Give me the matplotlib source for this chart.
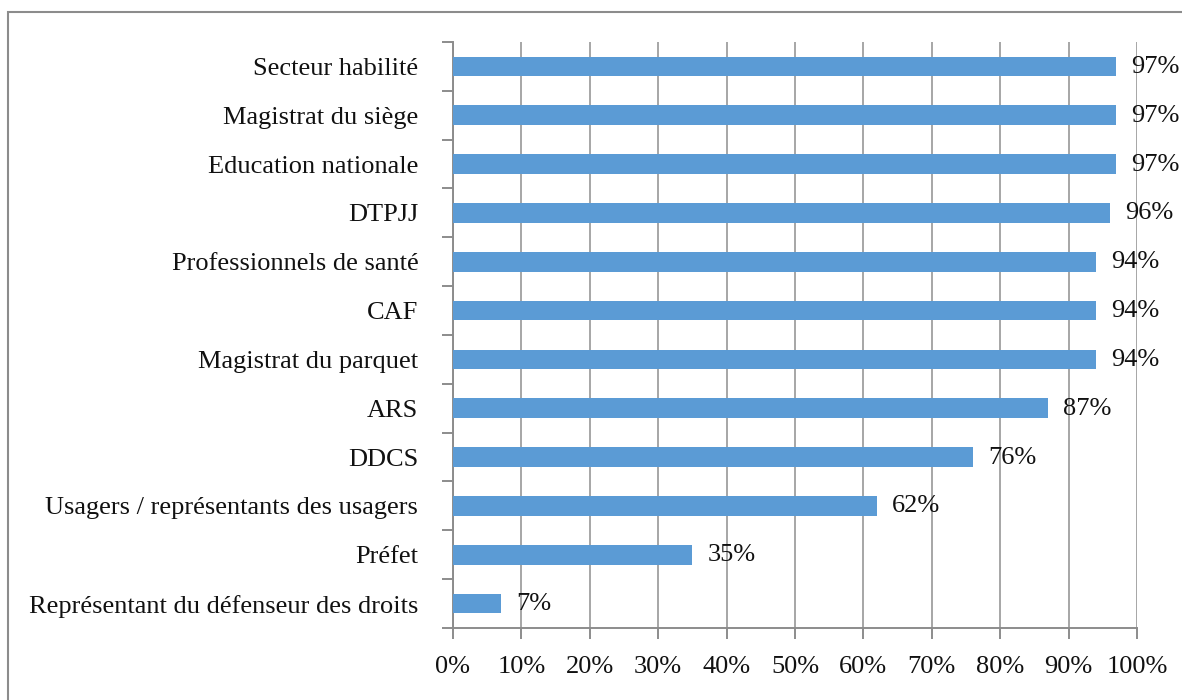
import matplotlib
matplotlib.use("Agg")
import matplotlib.pyplot as plt
from matplotlib.patches import Rectangle
from matplotlib.ticker import MultipleLocator, FixedLocator, PercentFormatter

categories = [
    "Secteur habilité",
    "Magistrat du siège",
    "Education nationale",
    "DTPJJ",
    "Professionnels de santé",
    "CAF",
    "Magistrat du parquet",
    "ARS",
    "DDCS",
    "Usagers / représentants des usagers",
    "Préfet",
    "Représentant du défenseur des droits",
]
values = [97, 97, 97, 96, 94, 94, 94, 87, 76, 62, 35, 7]

plt.rcParams['font.family'] = ['Liberation Serif', 'DejaVu Serif']

fig = plt.figure(figsize=(11.82, 7.0), dpi=100)
ax = fig.add_axes([453 / 1182, 1 - 628 / 700, 684 / 1182, 586 / 700])

# outer frame of the chart area
fig.patches.append(Rectangle((8 / 1182, -0.1), 1.2, 1 - 12 / 700 + 0.1,
                             transform=fig.transFigure, fill=False,
                             edgecolor='#8c8c8c', linewidth=1.5))

pos = list(range(len(categories)))[::-1]
ax.barh(pos, values, height=0.4, color='#5b9bd5', zorder=3)

for y, v in zip(pos, values):
    ax.text(v + 2.2, y - 0.01, f"{v}%", va='center', ha='left',
            fontsize=19, color='#111111', zorder=4)

ax.set_xlim(0, 100)
ax.set_ylim(-0.5, len(categories) - 0.5)
ax.xaxis.set_major_locator(MultipleLocator(10))
ax.xaxis.set_major_formatter(PercentFormatter(decimals=0))
ax.set_yticks(pos)
ax.set_yticklabels(categories)
ax.yaxis.set_minor_locator(FixedLocator([p + 0.5 for p in range(-1, len(categories))]))

ax.grid(axis='x', color='#a6a6a6', linewidth=1.4, zorder=0)
for s in ['top', 'right']:
    ax.spines[s].set_visible(False)
for s in ['left', 'bottom']:
    ax.spines[s].set_color('#8c8c8c')
    ax.spines[s].set_linewidth(1.4)

ax.tick_params(axis='y', which='major', length=0, pad=25, labelsize=19, labelcolor='#111111')
ax.tick_params(axis='y', which='minor', length=8, width=1.4, color='#8c8c8c')
ax.tick_params(axis='x', which='major', length=8, width=1.4, color='#8c8c8c',
               pad=12, labelsize=19, labelcolor='#111111')

fig.savefig("out.png", dpi=100, facecolor='white')
